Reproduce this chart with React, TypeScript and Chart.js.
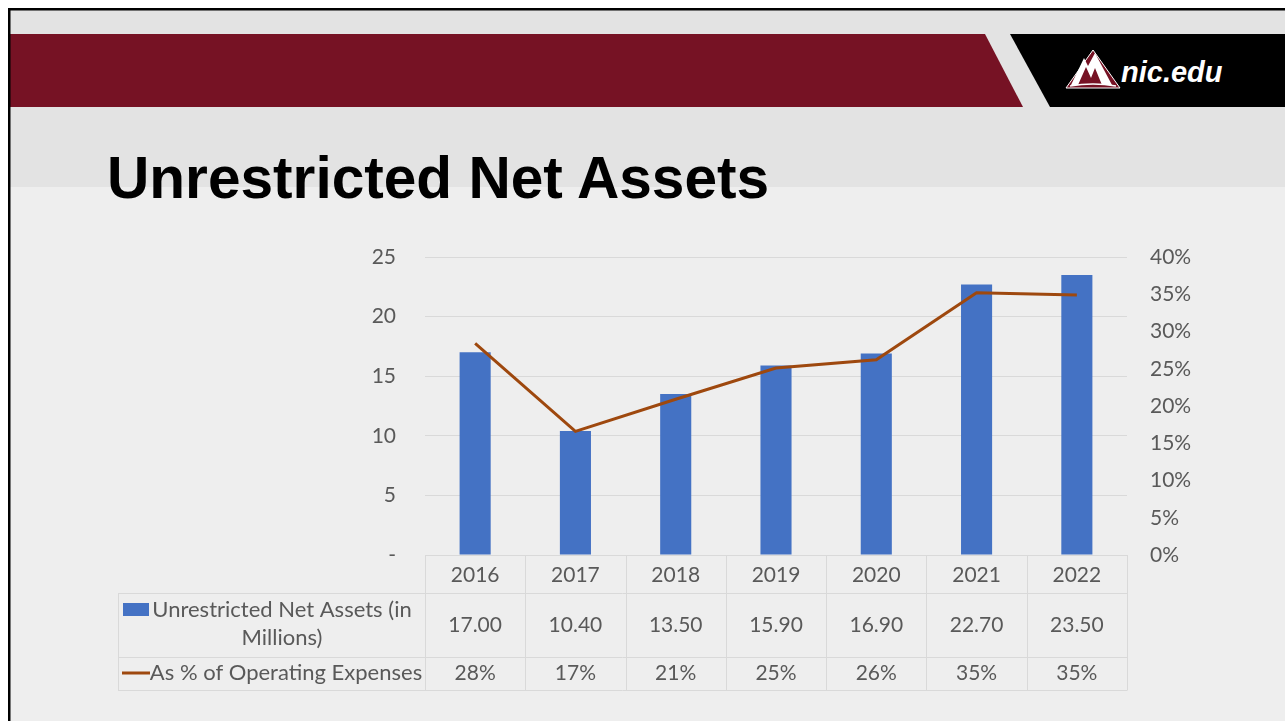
import React, { useEffect, useRef } from "react";
import { Chart, registerables } from "chart.js";

Chart.register(...registerables);

// ---- data ----
const years = ["2016", "2017", "2018", "2019", "2020", "2021", "2022"];
const netAssets = [17.0, 10.4, 13.5, 15.9, 16.9, 22.7, 23.5];
const pctOfOpEx = [0.284, 0.166, 0.209, 0.251, 0.262, 0.352, 0.349];
const barLabelLines = ["Unrestricted Net Assets (in", "Millions)"];
const lineLabel = "As % of Operating Expenses";
const slideTitle = "Unrestricted Net Assets";
const logoText = "nic.edu";

const BAR_COLOR = "#4472C4";
const LINE_COLOR = "#9E480E";
const TEXT_COLOR = "#595959";
const GRID_COLOR = "#D9D9D9";
const FONT = "Lato";

const dataTablePlugin = {
  id: "dataTable",
  afterDraw(chart: any) {
    const { ctx, chartArea } = chart;
    const xs = chart.scales.x;
    const n = years.length;
    const cw = chartArea.width / n;
    const top = chartArea.bottom;
    const r1 = top + 38;
    const r2 = top + 102;
    const r3 = top + 135;
    const tableLeft = 118;
    ctx.save();
    ctx.strokeStyle = GRID_COLOR;
    ctx.lineWidth = 1;
    const hl = (x0: number, x1: number, y: number) => {
      const yy = Math.round(y) + 0.5;
      ctx.beginPath();
      ctx.moveTo(x0, yy);
      ctx.lineTo(x1, yy);
      ctx.stroke();
    };
    const vl = (x: number, y0: number, y1: number) => {
      const xx = Math.round(x) + 0.5;
      ctx.beginPath();
      ctx.moveTo(xx, y0);
      ctx.lineTo(xx, y1);
      ctx.stroke();
    };
    hl(chartArea.left, chartArea.right, top);
    hl(tableLeft, chartArea.right, r1);
    hl(tableLeft, chartArea.right, r2);
    hl(tableLeft, chartArea.right, r3);
    for (let i = 0; i <= n; i++) {
      const xx = i < n ? xs.getPixelForValue(i) - cw / 2 : xs.getPixelForValue(n - 1) + cw / 2;
      vl(xx, top, r3 + 0.5);
    }
    vl(tableLeft, r1, r3 + 0.5);

    ctx.fillStyle = TEXT_COLOR;
    ctx.textAlign = "center";
    ctx.textBaseline = "alphabetic";
    ctx.font = `21px ${FONT}`;
    years.forEach((y, i) => {
      const cx = xs.getPixelForValue(i);
      ctx.fillText(y, cx, top + 27);
      ctx.fillText(netAssets[i].toFixed(2), cx, top + 77);
      ctx.fillText(Math.round(pctOfOpEx[i] * 100) + "%", cx, top + 125);
    });

    // legend keys + row labels
    ctx.font = `22px ${FONT}`;
    ctx.fillStyle = BAR_COLOR;
    ctx.fillRect(123, top + 48, 26, 13);
    ctx.fillStyle = TEXT_COLOR;
    ctx.fillText(barLabelLines[0], 282, top + 62);
    ctx.fillText(barLabelLines[1], 282, top + 90);

    ctx.strokeStyle = LINE_COLOR;
    ctx.lineWidth = 3;
    ctx.beginPath();
    ctx.moveTo(122, top + 118);
    ctx.lineTo(150, top + 118);
    ctx.stroke();
    ctx.fillText(lineLabel, 286, top + 125);
    ctx.restore();
  },
};

function SlideChart() {
  const ref = useRef<HTMLCanvasElement | null>(null);
  useEffect(() => {
    if (!ref.current) return;
    const chart = new Chart(ref.current, {
      type: "bar",
      data: {
        labels: years,
        datasets: [
          {
            type: "line",
            label: lineLabel,
            data: pctOfOpEx,
            yAxisID: "y1",
            borderColor: LINE_COLOR,
            backgroundColor: LINE_COLOR,
            borderWidth: 3,
            pointRadius: 0,
            tension: 0,
            order: 0,
          } as any,
          {
            type: "bar",
            label: barLabelLines.join(" "),
            data: netAssets,
            yAxisID: "y",
            backgroundColor: BAR_COLOR,
            barPercentage: 0.31,
            categoryPercentage: 1,
            order: 1,
          },
        ],
      },
      options: {
        responsive: true,
        maintainAspectRatio: false,
        animation: false,
        layout: { padding: { top: 257, bottom: 166, left: 0, right: 0 } },
        plugins: { legend: { display: false }, tooltip: { enabled: false } },
        scales: {
          x: { display: false, offset: true },
          y: {
            position: "left",
            min: 0,
            max: 25,
            border: { display: false },
            grid: { color: GRID_COLOR, drawTicks: false, lineWidth: 1 },
            ticks: {
              stepSize: 5,
              padding: 29,
              color: TEXT_COLOR,
              font: { family: FONT, size: 21 },
              callback: (v: any) => (Number(v) === 0 ? "-" : String(v)),
            },
            afterFit: (s: any) => {
              s.width = 425;
            },
          },
          y1: {
            position: "right",
            min: 0,
            max: 0.4,
            border: { display: false },
            grid: { display: false, drawTicks: false },
            ticks: {
              stepSize: 0.05,
              padding: 23,
              color: TEXT_COLOR,
              font: { family: FONT, size: 21 },
              callback: (v: any) => Math.round(Number(v) * 100) + "%",
            },
            afterFit: (s: any) => {
              s.width = 158;
            },
          },
        },
      },
      plugins: [dataTablePlugin],
    });
    return () => chart.destroy();
  }, []);
  return <canvas ref={ref} />;
}

export default function App() {
  return (
    <div style={{ position: "absolute", left: 0, top: 0, width: 1285, height: 721, overflow: "hidden", background: "#fff" }}>
      <svg width={1285} height={721} style={{ position: "absolute", left: 0, top: 0 }}>
        <rect x={9} y={9} width={1276} height={712} fill="#EEEEEE" />
        <rect x={9} y={9} width={1276} height={178} fill="#E3E3E3" />
        <polygon points="9,34 985,34 1023,107 9,107" fill="#761224" />
        <polygon points="1010,34 1285,34 1285,107 1050,107" fill="#000000" />
        <rect x={8} y={8} width={2.5} height={713} fill="#000" />
        <rect x={8} y={8} width={1277} height={2.5} fill="#000" />
        <g>
          <polygon points="1066,88 1093,50 1120,88" fill="#761224" stroke="#ffffff" strokeWidth={1} />
          <polygon points="1071,85 1084,58 1088,66 1095,53 1112,85 1102,85 1095,68 1091,78 1086,67 1078,85" fill="#ffffff" />
          <path d="M1070,86 Q1093,82 1116,86" stroke="#ffffff" strokeWidth={1.5} fill="none" />
        </g>
        <text x={1121} y={82} fill="#ffffff" fontFamily="'Liberation Sans', Arial, sans-serif" fontWeight="bold" fontStyle="italic" fontSize={29}>
          {logoText}
        </text>
        <text x={107} y={198} fill="#000000" fontFamily="'Liberation Sans', Arial, sans-serif" fontWeight="bold" fontSize={58.6}>
          {slideTitle}
        </text>
      </svg>
      <div style={{ position: "absolute", left: 0, top: 0, width: 1285, height: 721 }}>
        <SlideChart />
      </div>
    </div>
  );
}
